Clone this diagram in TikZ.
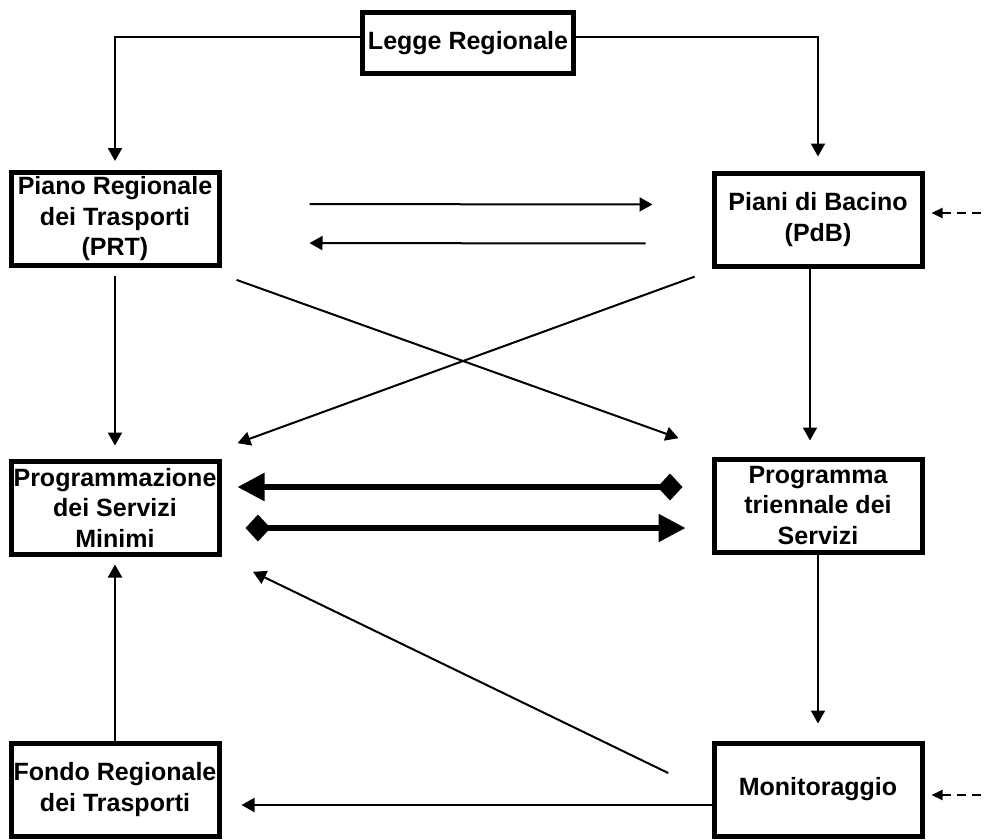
\documentclass[tikz,border=0pt]{standalone}
\usepackage{fontspec}
\setmainfont{Liberation Sans}
\usetikzlibrary{arrows.meta}

\begin{document}
\begin{tikzpicture}[x=1pt, y=-1pt,
        box/.style={draw, line width=5pt, minimum width=208pt, minimum height=93pt, inner sep=0pt, align=center, font=\bfseries\fontsize{25}{30.5}\selectfont},
        link/.style={line width=2pt, -{Triangle[length=13pt,width=14pt]}},
        thick link/.style={line width=5.5pt, {Diamond[length=25pt,width=27pt]}-{Triangle[length=27pt,width=27pt]}},
        ext/.style={line width=2pt, dash pattern=on 9pt off 6pt, -{Triangle[length=11pt,width=10pt]}}]
        \useasboundingbox (0,0) rectangle (986,839);
        \node[box, minimum width=211pt, minimum height=61pt] (legge) at (468,43) {Legge Regionale};
        \node[box] (prt) at (115,219) {Piano Regionale\\dei Trasporti\\(PRT)};
        \node[box] (pdb) at (818,219.5) {Piani di Bacino\\(PdB)};
        \node[box] (psm) at (115,507.5) {Programmazione\\dei Servizi\\Minimi};
        \node[box] (pts) at (818,505.5) {Programma\\triennale dei\\Servizi};
        \node[box] (fondo) at (115,789.5) {Fondo Regionale\\dei Trasporti};
        \node[box] (monit) at (818,789.5) {Monitoraggio};
        \coordinate (extpdb) at (981,213);
        \coordinate (extmon) at (981,795);
        \draw[link, shorten >=9pt] ([yshift=6pt]legge.west) -| (prt.north);
        \draw[link, shorten >=14pt] ([yshift=6pt]legge.east) -| (pdb.north);
        \draw[link, shorten <=88pt, shorten >=59pt] ([yshift=15pt]prt.east) -- ([yshift=15pt]pdb.west);
        \draw[link, shorten <=66pt, shorten >=88pt] ([yshift=-24pt]pdb.west) -- ([yshift=-24pt]prt.east);
        \draw[ext, shorten >=7pt] (extpdb) -- (extpdb -| pdb.east);
        \draw[link, shorten <=8pt, shorten >=13pt] (prt.south) -- (psm.north);
        \draw[link, shorten >=16pt] ([xshift=-8pt]pdb.south) -- ([xshift=-8pt]pts.north);
        \draw[link, shorten <=16pt, shorten >=35pt] ([yshift=-6.5pt]prt.south east) -- ([yshift=6.5pt]pts.north west);
        \draw[link, shorten <=18pt, shorten >=17pt] ([yshift=-2pt]pdb.south west) -- ([yshift=9.5pt]psm.north east);
        \draw[thick link, shorten <=29pt, shorten >=16pt] ([yshift=18.5pt]pts.west) -- ([yshift=20.5pt]psm.east);
        \draw[thick link, shorten <=24pt, shorten >=26pt] ([yshift=-20.5pt]psm.east) -- ([yshift=-22.5pt]pts.west);
        \draw[link, shorten >=17pt] (pts.south) -- (monit.north);
        \draw[link, shorten <=48pt, shorten >=35pt] ([yshift=-4.5pt]monit.west) -- (psm.south east);
        \draw[link, shorten >=20pt] ([yshift=-15.5pt]monit.west) -- ([yshift=-15.5pt]fondo.east);
        \draw[link, shorten >=8pt] (fondo.north) -- (psm.south);
        \draw[ext, shorten >=7pt] (extmon) -- (extmon -| monit.east);
\end{tikzpicture}
\end{document}
